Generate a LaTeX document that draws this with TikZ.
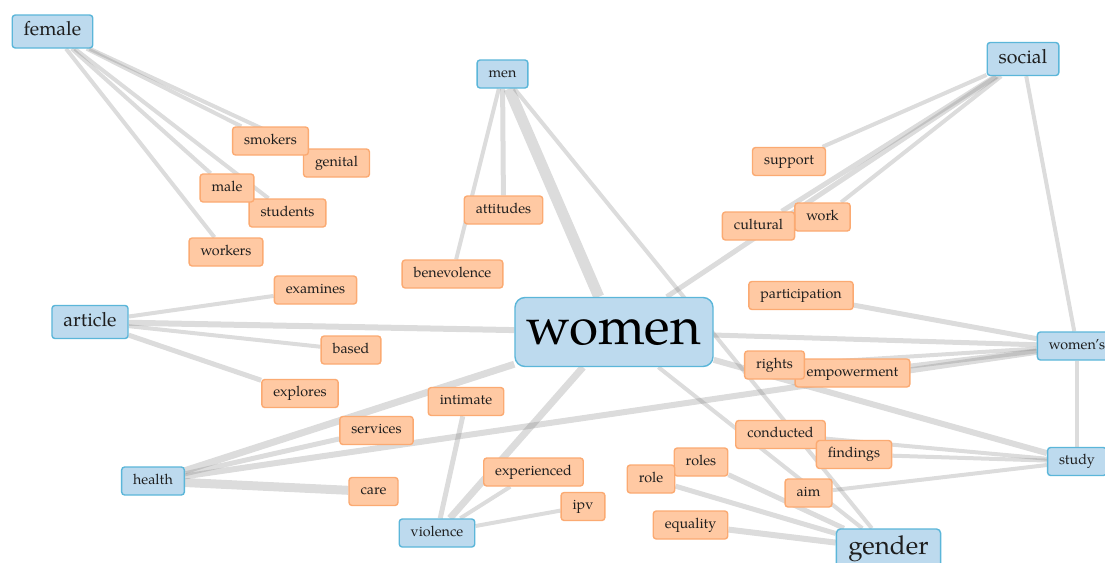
\documentclass[tikz,border=0pt]{standalone}
\usepackage{fontspec}
\setmainfont{texgyrepagella}[Extension=.otf,UprightFont=*-regular,BoldFont=*-bold]
\pgfdeclarelayer{edges}
\pgfsetlayers{edges,main}
\definecolor{bfill}{HTML}{BDDAEE}
\definecolor{bdraw}{HTML}{5BB6D9}
\definecolor{ofill}{HTML}{FFC9A3}
\definecolor{odraw}{HTML}{FBAA72}
\definecolor{txt}{HTML}{1E1E1E}
\definecolor{edgecol}{HTML}{808080}
\tikzset{
  box/.style={rounded corners=3pt, line width=1.4pt, inner xsep=11.5pt, inner ysep=0pt, text=txt},
  smallfont/.style={font=\fontsize{14.3}{16}\selectfont, text height=10pt, text depth=3.6pt, minimum height=28pt},
  bsmall/.style={box, smallfont, fill=bfill, draw=bdraw},
  blarge/.style={box, fill=bfill, draw=bdraw, font=\fontsize{19.5}{22}\selectfont, text height=13.7pt, text depth=4.9pt, minimum height=33pt},
  onode/.style={box, smallfont, fill=ofill, draw=odraw},
  womenbox/.style={box, fill=bfill, draw=bdraw, rounded corners=10pt, inner xsep=12pt, font=\fontsize{53}{60}\selectfont, text=black, text height=37pt, text depth=13pt, minimum height=69pt},
  gbox/.style={box, fill=bfill, draw=bdraw, rounded corners=4pt, inner xsep=12pt, font=\fontsize{26}{30}\selectfont, text height=18.2pt, text depth=6.5pt, minimum height=40pt},
  lnk/.style={draw=edgecol, draw opacity=0.28, line width=#1},
  lnk/.default=4pt
}
\begin{document}
\begin{tikzpicture}[x=1pt,y=-1pt]
\useasboundingbox (0,0) rectangle (1105,562);
\clip (0,0) rectangle (1105,562);
% blue nodes
\node[blarge] (female) at (52.5,31.5) {female};
\node[bsmall] (men) at (502.5,74) {men};
\node[blarge] (social) at (1023,59) {social};
\node[blarge] (article) at (90,322) {article};
\node[womenbox] (women) at (614,332) {women};
\node[bsmall] (womens) at (1077,346) {women's};
\node[bsmall] (health) at (153,481) {health};
\node[bsmall] (study) at (1077,461.5) {study};
\node[bsmall] (violence) at (437,533) {violence};
\node[gbox] (gender) at (888.5,549) {gender};
% orange nodes
\node[onode] (genital) at (336.5,163) {genital};
\node[onode] (smokers) at (270.5,141) {smokers};
\node[onode] (students) at (287.5,213) {students};
\node[onode] (male) at (227,188) {male};
\node[onode] (workers) at (226,252) {workers};
\node[onode] (examines) at (315.5,290) {examines};
\node[onode] (based) at (351,350) {based};
\node[onode] (explores) at (300,393.5) {explores};
\node[onode] (services) at (376.5,430.5) {services};
\node[onode] (care) at (373.5,491.5) {care};
\node[onode] (intimate) at (466,401.5) {intimate};
\node[onode] (experienced) at (533.5,472) {experienced};
\node[onode] (ipv) at (583,506.5) {ipv};
\node[onode] (attitudes) at (503.5,210) {attitudes};
\node[onode] (benevolence) at (452.5,274) {benevolence};
\node[onode] (support) at (789,161.5) {support};
\node[onode] (work) at (822.5,217) {work};
\node[onode] (cultural) at (758.5,226) {cultural};
\node[onode] (participation) at (801,295.5) {participation};
\node[onode] (empowerment) at (852.5,373) {empowerment};
\node[onode] (rights) at (774.5,365) {rights};
\node[onode] (conducted) at (780.5,434.5) {conducted};
\node[onode] (findings) at (854,454.5) {findings};
\node[onode] (roles) at (701,462) {roles};
\node[onode] (role) at (651,479) {role};
\node[onode] (aim) at (808.5,493) {aim};
\node[onode] (equality) at (690.5,525) {equality};
% connectors
\begin{pgfonlayer}{edges}
\draw[lnk] (female) -- (smokers);
\draw[lnk] (female) -- (genital);
\draw[lnk] (female) -- (male);
\draw[lnk] (female) -- (students);
\draw[lnk] (female) -- (workers);
\draw[lnk=11pt] (men) -- (women);
\draw[lnk=5pt] (men) -- (attitudes);
\draw[lnk] (men) -- (benevolence);
\draw[lnk] (men) -- (gender);
\draw[lnk=5pt] (social) -- (women);
\draw[lnk=5pt] (social) -- (cultural);
\draw[lnk] (social) -- (support);
\draw[lnk] (social) -- (work);
\draw[lnk] (social) -- (womens);
\draw[lnk=6pt] (article) -- (women);
\draw[lnk] (article) -- (examines);
\draw[lnk] (article) -- (based);
\draw[lnk=5pt] (article) -- (explores);
\draw[lnk=7pt] (health) -- (women);
\draw[lnk=5pt] (health) -- (services);
\draw[lnk=6pt] (health) -- (womens);
\draw[lnk=9pt] (health) -- (care);
\draw[lnk=7pt] (violence) -- (women);
\draw[lnk=5pt] (violence) -- (intimate);
\draw[lnk] (violence) -- (experienced);
\draw[lnk] (violence) -- (ipv);
\draw[lnk=5pt] (women) -- (womens);
\draw[lnk=6pt] (women) -- (study);
\draw[lnk] (women) -- (gender);
\draw[lnk=5pt] (womens) -- (participation);
\draw[lnk] (womens) -- (rights);
\draw[lnk=5pt] (womens) -- (empowerment);
\draw[lnk] (womens) -- (study);
\draw[lnk] (study) -- (conducted);
\draw[lnk] (study) -- (findings);
\draw[lnk] (study) -- (aim);
\draw[lnk=5pt] (gender) -- (roles);
\draw[lnk=5pt] (gender) -- (role);
\draw[lnk=6pt] (gender) -- (equality);
\end{pgfonlayer}
\end{tikzpicture}
\end{document}
